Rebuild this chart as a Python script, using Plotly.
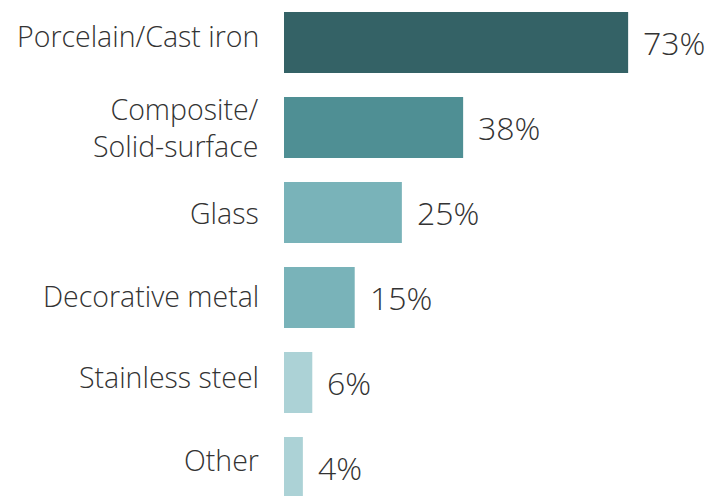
import plotly.graph_objects as go

categories = ["Porcelain/Cast iron", "Composite/<br>Solid-surface", "Glass",
              "Decorative metal", "Stainless steel", "Other"]
values = [73, 38, 25, 15, 6, 4]
bar_colors = ["#346266", "#4f8f94", "#79b3b9", "#79b3b9", "#acd2d6", "#acd2d6"]
value_labels = [f"{v}%" for v in values]
label_shift = [7, 0, 0, 2, 6, 8]   # small upward nudges of category labels (px)

FONT = "Open Sans"
TXT = "#333333"
pos = list(range(len(categories)))

fig = go.Figure(go.Bar(
    x=values, y=pos, orientation="h",
    marker=dict(color=bar_colors, line=dict(width=0)),
    width=0.72,
    hoverinfo="skip",
))

for p, v, lab in zip(pos, values, value_labels):
    fig.add_annotation(x=v, y=p, text=lab, xanchor="left", yanchor="middle",
                       xshift=13, showarrow=False,
                       font=dict(family=FONT, size=32, color=TXT, weight=300))

for p, cat, s in zip(pos, categories, label_shift):
    fig.add_annotation(x=0, y=p, text=cat, xanchor="right", yanchor="middle",
                       align="right", xshift=-23, yshift=s, showarrow=False,
                       font=dict(family=FONT, size=28.5, color=TXT, weight=300))

fig.update_layout(
    width=713, height=496,
    margin=dict(l=284, r=0, t=0, b=0),
    paper_bgcolor="white", plot_bgcolor="white",
    showlegend=False,
)
fig.update_xaxes(range=[0, 91], visible=False, fixedrange=True)
fig.update_yaxes(range=[5.335, -0.5], visible=False, fixedrange=True)

fig.write_html("out.html", config={"displayModeBar": False},
               post_script="document.body.style.margin='0px';")
